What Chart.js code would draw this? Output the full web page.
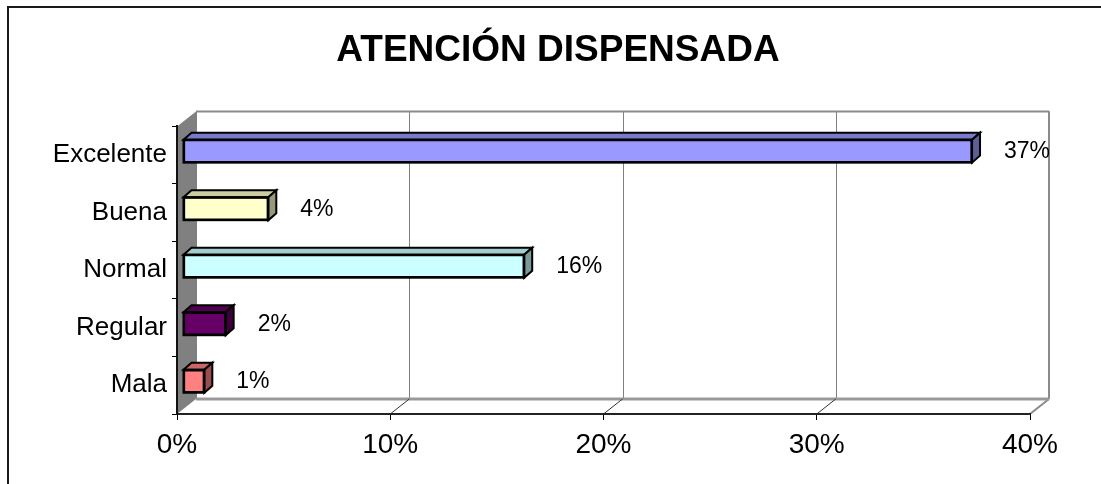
<!DOCTYPE html>
<html>
<head>
<meta charset="utf-8">
<script src="https://cdn.jsdelivr.net/npm/chart.js@4.4.0/dist/chart.umd.min.js"></script>
<style>
html, body { margin: 0; padding: 0; background: #fff; }
#wrap { width: 1101px; height: 484px; }
</style>
</head>
<body>
<div id="wrap"><canvas id="myChart"></canvas></div>
<script>
// data
var categories = ['Excelente', 'Buena', 'Normal', 'Regular', 'Mala'];
var values = [37, 4, 16, 2, 1];
var tickValues = [0, 10, 20, 30, 40];
var chartTitle = 'ATENCIÓN DISPENSADA';

// bar colours: front, top and side faces
var frontColors = ['#9999ff', '#ffffcc', '#ccffff', '#660066', '#ff8080'];
var topColors = ['#7a7acc', '#cccca3', '#a3cccc', '#520052', '#cc6666'];
var sideColors = ['#5c5c99', '#99997a', '#7a9999', '#3d003d', '#994d4d'];

var DX = 19, DY = -15;      // depth of the walls
var BX = 8, BY = -7;        // depth of a bar
var SX = 6, SY = -4;        // bars sit a bit behind the front plane

Chart.defaults.font.family = "'Liberation Sans', Arial, sans-serif";
Chart.defaults.color = '#000';

function line(ctx, x1, y1, x2, y2){
    ctx.beginPath();
    ctx.moveTo(x1, y1);
    ctx.lineTo(x2, y2);
    ctx.stroke();
}

// frame, back wall, left wall and floor
var walls = {
    id: 'walls',
    beforeDraw: function(chart){
        var ctx = chart.ctx, a = chart.chartArea, xs = chart.scales.x;
        ctx.save();
        ctx.fillStyle = '#fff';
        ctx.fillRect(0, 0, chart.width, chart.height);
        ctx.strokeStyle = '#1a1a1a';
        ctx.lineWidth = 2;
        ctx.strokeRect(8, 7, chart.width + 20, chart.height + 20);

        // grid lines on the back wall
        ctx.strokeStyle = '#808080';
        ctx.lineWidth = 1;
        tickValues.forEach(function(v){
            var x = Math.round(xs.getPixelForValue(v)) + DX + 0.5;
            line(ctx, x, a.top + DY, x, a.bottom + DY);
        });

        // left wall
        ctx.fillStyle = '#808080';
        ctx.beginPath();
        ctx.moveTo(a.left, a.top);
        ctx.lineTo(a.left + DX, a.top + DY);
        ctx.lineTo(a.left + DX, a.bottom + DY);
        ctx.lineTo(a.left, a.bottom);
        ctx.closePath();
        ctx.fill();

        // back wall edges
        ctx.lineWidth = 2;
        ctx.strokeStyle = '#8a8a8a';
        line(ctx, a.left + DX, a.top + DY, a.right + DX, a.top + DY);
        line(ctx, a.right + DX, a.top + DY, a.right + DX, a.bottom + DY);
        line(ctx, a.right, a.bottom, a.right + DX, a.bottom + DY);
        ctx.lineWidth = 3;
        ctx.strokeStyle = '#999';
        line(ctx, a.left + DX, a.bottom + DY, a.right + DX, a.bottom + DY);

        // floor diagonals
        ctx.lineWidth = 1;
        ctx.strokeStyle = '#333';
        tickValues.slice(1, -1).forEach(function(v){
            var x = xs.getPixelForValue(v);
            line(ctx, x, a.bottom, x + DX, a.bottom + DY);
        });
        ctx.restore();
    }
};

// top and side faces of the bars plus value labels
var bars3d = {
    id: 'bars3d',
    beforeDatasetsDraw: function(chart){
        chart.ctx.save();
        chart.ctx.translate(SX, SY);
    },
    afterDatasetsDraw: function(chart){
        var ctx = chart.ctx;
        var meta = chart.getDatasetMeta(0);
        ctx.lineWidth = 2;
        ctx.lineJoin = 'miter';
        ctx.strokeStyle = '#000';
        meta.data.forEach(function(bar, i){
            var p = bar.getProps(['x', 'y', 'base', 'height'], true);
            var t = p.y - p.height / 2, b = p.y + p.height / 2;
            ctx.fillStyle = topColors[i];
            ctx.beginPath();
            ctx.moveTo(p.base, t);
            ctx.lineTo(p.base + BX, t + BY);
            ctx.lineTo(p.x + BX, t + BY);
            ctx.lineTo(p.x, t);
            ctx.closePath();
            ctx.fill();
            ctx.stroke();
            ctx.fillStyle = sideColors[i];
            ctx.beginPath();
            ctx.moveTo(p.x, t);
            ctx.lineTo(p.x + BX, t + BY);
            ctx.lineTo(p.x + BX, b + BY);
            ctx.lineTo(p.x, b);
            ctx.closePath();
            ctx.fill();
            ctx.stroke();
            // front outline, a bit heavier like the original
            ctx.strokeRect(p.base, t, p.x - p.base, p.height);

            ctx.fillStyle = '#000';
            ctx.font = "23px 'Liberation Sans', Arial, sans-serif";
            ctx.textAlign = 'left';
            ctx.textBaseline = 'middle';
            ctx.fillText(values[i] + '%', p.x + 32, p.y + 0.5);
        });
        ctx.restore();
    }
};

var ctx = document.getElementById('myChart');
var chart = new Chart(ctx, {
    type: 'bar',
    data: {
        labels: categories,
        datasets: [{
            data: values,
            backgroundColor: frontColors,
            borderColor: '#000',
            borderWidth: 2,
            borderSkipped: false,
            barThickness: 23,
            clip: false
        }]
    },
    options: {
        indexAxis: 'y',
        responsive: true,
        maintainAspectRatio: false,
        animation: false,
        layout: { padding: { left: 15, right: 0, top: 0, bottom: 0 } },
        plugins: {
            legend: { display: false },
            tooltip: { enabled: false },
            title: {
                display: true,
                text: chartTitle,
                color: '#000',
                font: { size: 37, weight: 'bold' },
                padding: { top: 29, bottom: 53 }
            }
        },
        scales: {
            x: {
                min: 0,
                max: 40,
                afterFit: function(scale){ scale.height = 70; },
                afterBuildTicks: function(scale){
                    scale.ticks = tickValues.map(function(v){ return { value: v }; });
                },
                ticks: {
                    font: { size: 28 },
                    color: '#000',
                    padding: 8,
                    maxRotation: 0,
                    callback: function(v){ return v + '%'; }
                },
                grid: { drawOnChartArea: false, drawTicks: true, tickLength: 6, color: '#000', lineWidth: 1 },
                border: { display: true, color: '#222', width: 2 }
            },
            y: {
                afterFit: function(scale){ scale.width = 162; },
                ticks: { font: { size: 26 }, color: '#000', padding: 5 },
                grid: { drawOnChartArea: false, drawTicks: true, tickLength: 5, color: '#000', lineWidth: 1 },
                border: { display: true, color: '#111', width: 2 }
            },
            // empty margin on the right, keeps the plot where the original has it
            gap: {
                type: 'category',
                position: 'right',
                labels: categories,
                afterFit: function(scale){ scale.width = 71; },
                ticks: { display: false },
                grid: { display: false, drawTicks: false },
                border: { display: false }
            }
        }
    },
    plugins: [walls, bars3d]
});
</script>
</body>
</html>
